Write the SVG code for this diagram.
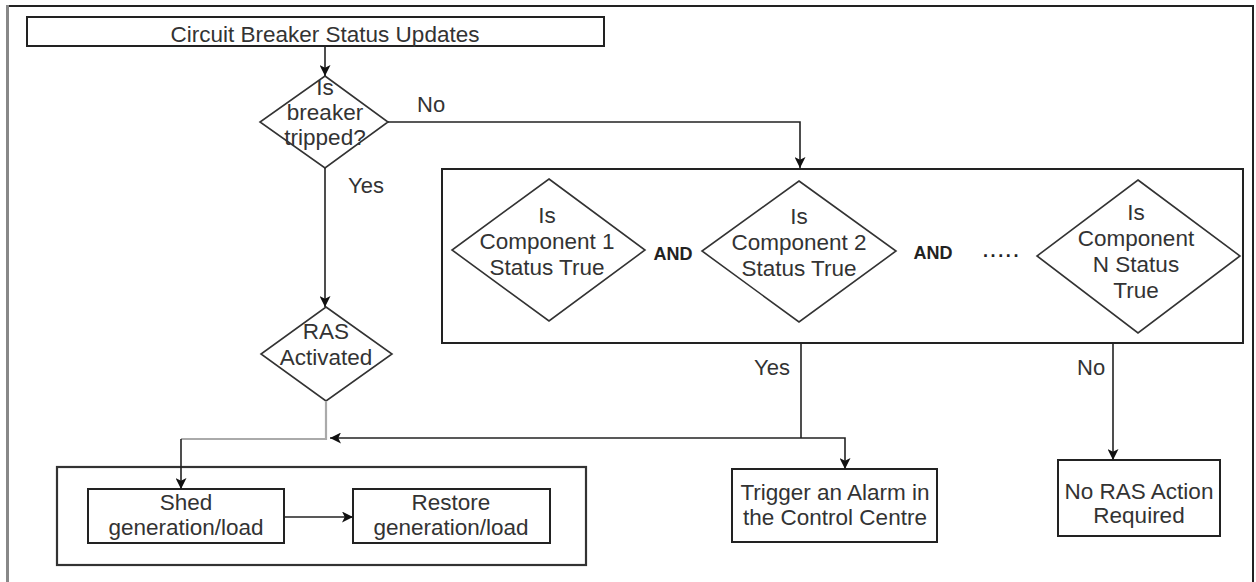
<svg xmlns="http://www.w3.org/2000/svg" width="1256" height="582" viewBox="0 0 1256 582">
<style>
.box{fill:#fff;stroke:#222;stroke-width:2}
.dia{fill:#fff;stroke:#333;stroke-width:1.6}
.t{font-family:"Liberation Sans",Arial,sans-serif;font-size:22.5px;fill:#333;text-anchor:middle}
.lbl{font-family:"Liberation Sans",Arial,sans-serif;font-size:22px;fill:#333}
.b{font-family:"Liberation Sans",Arial,sans-serif;font-size:18px;font-weight:bold;fill:#222;text-anchor:middle}
.c{fill:none;stroke:#222;stroke-width:1.6}
</style>
<defs>
<marker id="arr" viewBox="0 0 10 10" refX="10" refY="5" markerWidth="11" markerHeight="11" markerUnits="userSpaceOnUse" orient="auto">
<path d="M0,0 L10,5 L0,10 L2.5,5 z" fill="#111"/>
</marker>
</defs>
<rect width="1256" height="582" fill="#fff"/>
<g id="frame">
<line x1="7" y1="6" x2="1253" y2="6" stroke="#222" stroke-width="2"/>
<line x1="1253" y1="5" x2="1253" y2="582" stroke="#222" stroke-width="2"/>
<line x1="7.5" y1="5" x2="7.5" y2="582" stroke="#888" stroke-width="3"/>
</g>
<g id="start">
<rect class="box" x="27" y="17" width="577" height="29"/>
<text class="t" x="325" y="42">Circuit Breaker Status Updates</text>
</g>
<g id="breaker-tripped">
<polygon class="dia" points="325,76 388,122 325,168 260,122"/>
<text class="t" x="325" y="95">Is</text>
<text class="t" x="325" y="120">breaker</text>
<text class="t" x="325" y="145">tripped?</text>
</g>
<g id="ras-activated">
<polygon class="dia" points="326,307 392,354 326,401 261,354"/>
<text class="t" x="326" y="339">RAS</text>
<text class="t" x="326" y="365">Activated</text>
</g>
<g id="component-group">
<rect class="box" x="442" y="169" width="801" height="174"/>
</g>
<g id="component-1">
<polygon class="dia" points="549,179 645,250 549,321 452,250"/>
<text class="t" x="547" y="223">Is</text>
<text class="t" x="547" y="249">Component 1</text>
<text class="t" x="547" y="275">Status True</text>
</g>
<g id="and-1">
<text class="b" x="673" y="260">AND</text>
</g>
<g id="component-2">
<polygon class="dia" points="799,181 896,251 799,322 702,251"/>
<text class="t" x="799" y="224">Is</text>
<text class="t" x="799" y="250">Component 2</text>
<text class="t" x="799" y="276">Status True</text>
</g>
<g id="and-2">
<text class="b" x="933" y="259">AND</text>
</g>
<g id="ellipsis">
<text class="b" x="1002" y="257" letter-spacing="2.6">.....</text>
</g>
<g id="component-n">
<polygon class="dia" points="1138,180 1240,256 1138,333 1037,256"/>
<text class="t" x="1136" y="220">Is</text>
<text class="t" x="1136" y="246">Component</text>
<text class="t" x="1136" y="272">N Status</text>
<text class="t" x="1136" y="298">True</text>
</g>
<g id="ras-actions">
<rect x="57" y="467" width="529" height="98" fill="#fff" stroke="#333" stroke-width="2.2"/>
</g>
<g id="shed">
<rect class="box" x="88" y="489" width="196" height="54"/>
<text class="t" x="186" y="510">Shed</text>
<text class="t" x="186" y="535">generation/load</text>
</g>
<g id="restore">
<rect class="box" x="353" y="489" width="197" height="54"/>
<text class="t" x="451" y="510">Restore</text>
<text class="t" x="451" y="535">generation/load</text>
</g>
<g id="alarm">
<rect class="box" x="732" y="469" width="205" height="73"/>
<text class="t" x="835" y="500">Trigger an Alarm in</text>
<text class="t" x="835" y="525">the Control Centre</text>
</g>
<g id="no-action">
<rect class="box" x="1058" y="460" width="162" height="76"/>
<text class="t" x="1139" y="499">No RAS Action</text>
<text class="t" x="1139" y="523">Required</text>
</g>
<g id="connectors">
<line class="c" x1="325" y1="46" x2="325" y2="76" marker-end="url(#arr)"/>
<polyline class="c" points="388,122 800,122 800,168" marker-end="url(#arr)"/>
<line class="c" x1="325" y1="168" x2="325" y2="307" marker-end="url(#arr)"/>
<polyline fill="none" stroke="#aaa" stroke-width="2.2" points="326,401 326,439 181,439"/>
<line class="c" x1="181" y1="439" x2="181" y2="489" marker-end="url(#arr)"/>
<line class="c" x1="801" y1="343" x2="801" y2="438"/>
<line class="c" x1="801" y1="438" x2="330" y2="438" marker-end="url(#arr)"/>
<polyline class="c" points="801,438 845,438 845,469" marker-end="url(#arr)"/>
<line class="c" x1="1113" y1="343" x2="1113" y2="460" marker-end="url(#arr)"/>
<line class="c" x1="284" y1="517" x2="353" y2="517" marker-end="url(#arr)"/>
<text class="lbl" x="417" y="112">No</text>
<text class="lbl" x="348" y="193">Yes</text>
<text class="lbl" x="754" y="375">Yes</text>
<text class="lbl" x="1077" y="375">No</text>
</g>
</svg>
